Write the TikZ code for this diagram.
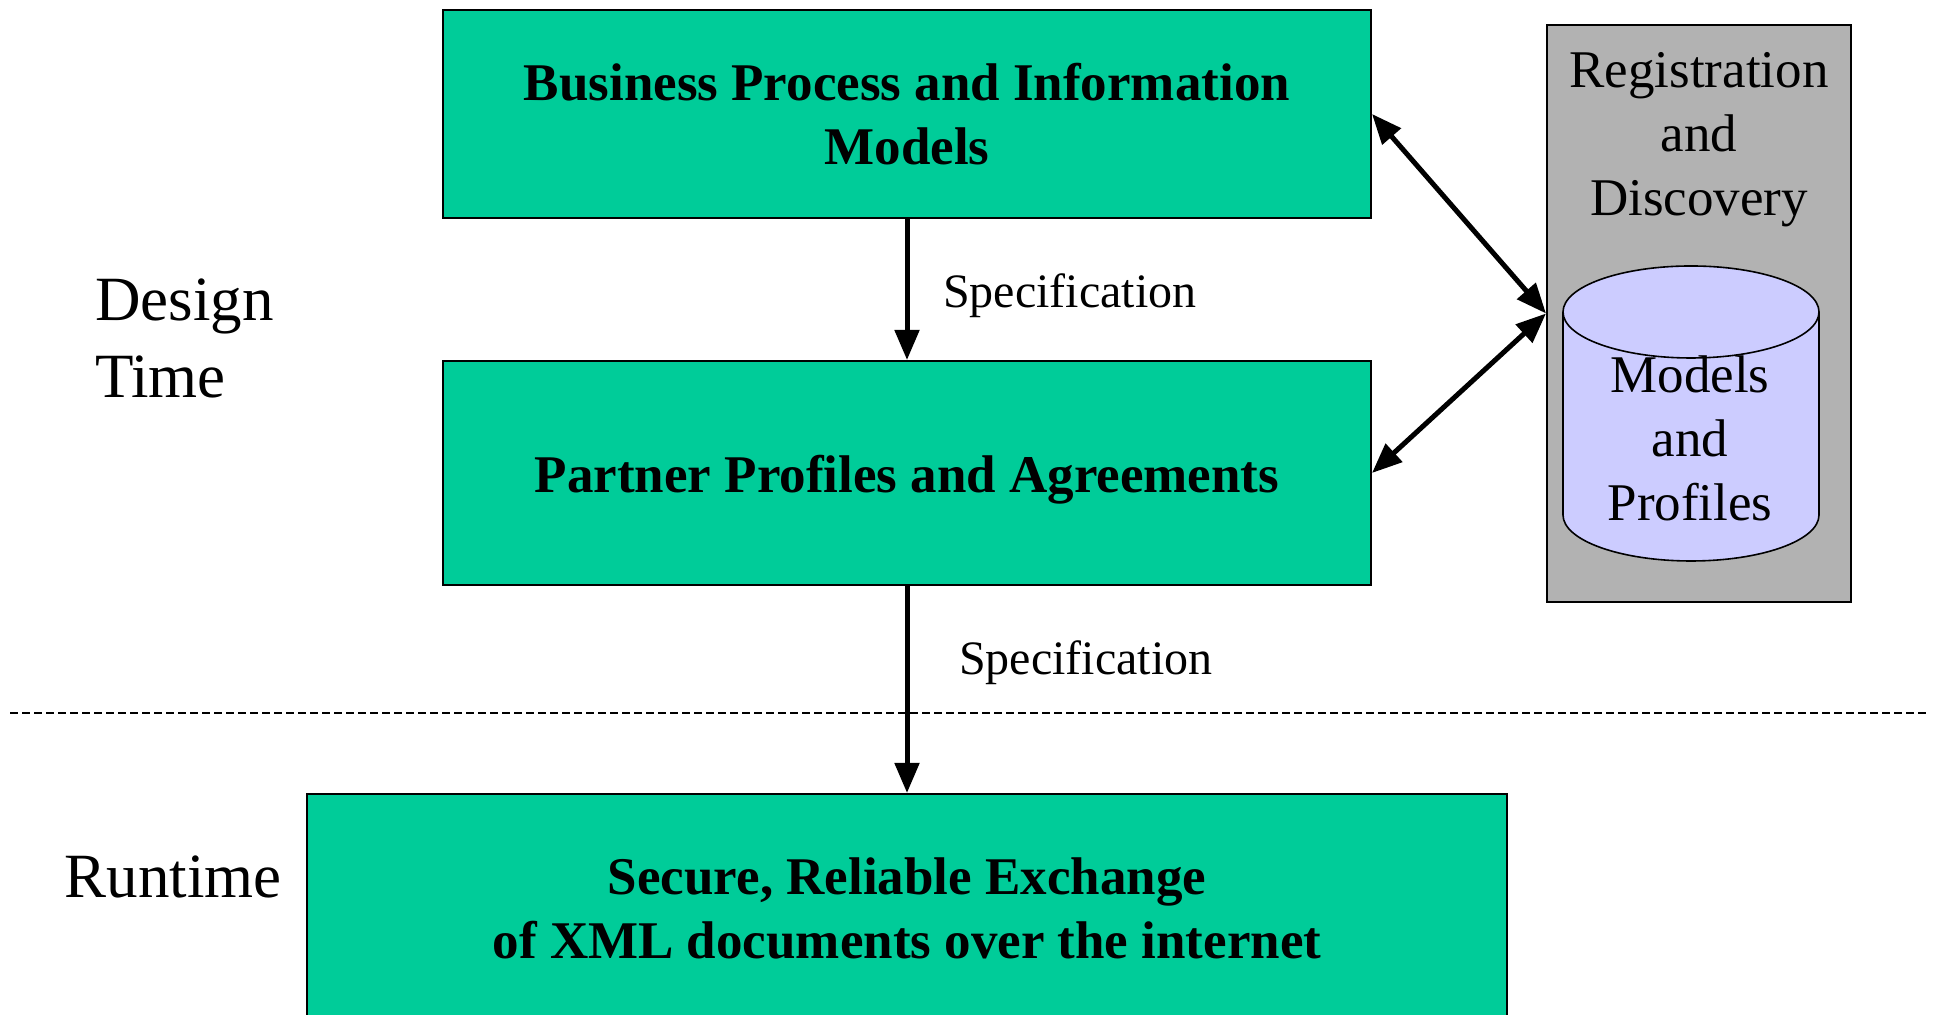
\documentclass[tikz,border=0pt]{standalone}
\usepackage{fontspec}
\setmainfont{Liberation Serif}
\usetikzlibrary{arrows.meta}
\definecolor{boxgreen}{RGB}{0,204,153}
\definecolor{reggray}{RGB}{178,178,178}
\definecolor{dbblue}{RGB}{204,204,255}

\begin{document}
\begin{tikzpicture}[x=0.5pt,y=0.5pt,
    stage/.style={draw, line width=1pt, fill=boxgreen, align=center, inner sep=0pt,
      font=\fontsize{26.5}{32}\selectfont\bfseries},
    flow/.style={line width=2.5pt, -{Triangle[length=15pt,width=12pt]}},
    link/.style={line width=2.5pt, {Triangle[length=15pt,width=12pt]}-{Triangle[length=15pt,width=12pt]}},
    phase/.style={font=\fontsize{31.5}{38.5}\selectfont, align=left},
    plain/.style={font=\fontsize{26.5}{32}\selectfont, align=center},
    speclabel/.style={font=\fontsize{24}{28.8}\selectfont, anchor=west}]
  \useasboundingbox (0,0) rectangle (1939,1015);
  \clip (0,0) rectangle (1939,1015);

  % design time / runtime split
  \draw[line width=0.6pt, dash pattern=on 4pt off 2pt] (10,302) -- (1929,302);
  \node[phase, anchor=west] (design) at (88,677) {Design\\Time};
  \node[phase] (runtime) at (173,138) {Runtime};

  % main boxes
  \node[stage, minimum width=464pt, minimum height=104pt] (bpim) at (907,901)
    {Business Process and Information\\Models};
  \node[stage, minimum width=464pt, minimum height=112pt, text height=25pt] (ppa) at (907,542)
    {Partner Profiles and Agreements};
  \node[stage, minimum width=600pt, minimum height=114pt] (exch) at (907,107)
    {Secure, Reliable Exchange\\of XML documents over the internet};

  % registry
  \node[draw, line width=1pt, fill=reggray, minimum width=152pt, minimum height=288.5pt] (reg) at (1699,701.5) {};
  \node[plain] (regtxt) at (1699,875) {Registration\\and\\Discovery};
  \draw[line width=0.8pt, fill=dbblue] (1563,703) -- (1563,500)
    arc[start angle=180, end angle=360, x radius=128, y radius=46] -- (1819,703)
    arc[start angle=0, end angle=180, x radius=128, y radius=46] -- cycle;
  \draw[line width=0.8pt] (1563,703) arc[start angle=180, end angle=360, x radius=128, y radius=46];
  \node[plain] (store) at (1690,577) {Models\\and\\Profiles};

  % connectors
  \draw[flow] (bpim) -- (ppa);
  \draw[flow] (ppa) -- (exch);
  \node[speclabel] (spec1) at (936,719) {Specification};
  \node[speclabel] (spec2) at (952,352) {Specification};
  \draw[link] (bpim.east) -- (reg.west);
  \draw[link] (ppa.east) -- (reg.west);
\end{tikzpicture}
\end{document}
